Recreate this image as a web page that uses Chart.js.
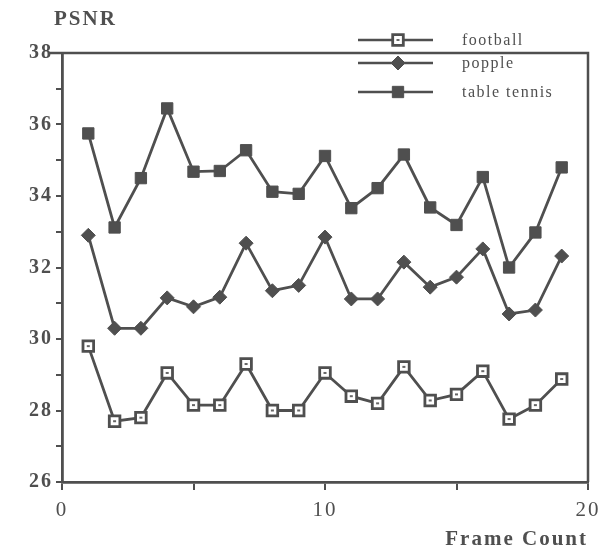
<!DOCTYPE html>
<html>
<head>
<meta charset="utf-8">
<script src="https://cdn.jsdelivr.net/npm/chart.js@4"></script>
<style>
  html, body { margin: 0; padding: 0; background: #fff; }
  #wrap { width: 602px; height: 552px; }
</style>
</head>
<body>
<div id="wrap"><canvas id="c" width="602" height="552"></canvas></div>
<script>
// values
const frames = [1, 2, 3, 4, 5, 6, 7, 8, 9, 10, 11, 12, 13, 14, 15, 16, 17, 18, 19];
const football = [29.8, 27.7, 27.8, 29.05, 28.15, 28.15, 29.3, 28.0, 28.0, 29.05, 28.4, 28.2, 29.22, 28.28, 28.45, 29.1, 27.76, 28.15, 28.88];
const popple = [32.9, 30.3, 30.3, 31.15, 30.9, 31.17, 32.68, 31.35, 31.5, 32.85, 31.12, 31.12, 32.15, 31.45, 31.73, 32.52, 30.7, 30.81, 32.32];
const tableTennis = [35.75, 33.12, 34.5, 36.45, 34.68, 34.7, 35.28, 34.12, 34.06, 35.12, 33.66, 34.22, 35.16, 33.68, 33.19, 34.53, 32.0, 32.98, 34.8];
const xLabels = [0, 10, 20];
const yLabels = [26, 28, 30, 32, 34, 36, 38];

const ink = '#4f4f4f';
const serif = '"Liberation Serif", "DejaVu Serif", serif';

function pts(arr) {
  return frames.map((f, i) => ({ x: f, y: arr[i] }));
}

// custom legend, frame box and football centre dots
const extras = {
  id: 'extras',
  beforeDraw(chart) {
    chart.ctx.letterSpacing = '2px';
  },
  afterDatasetsDraw(chart) {
    const ctx = chart.ctx;
    const a = chart.chartArea;
    ctx.save();
    ctx.strokeStyle = ink;
    ctx.lineWidth = 2.5;
    ctx.beginPath();
    ctx.moveTo(48, a.top);
    ctx.lineTo(a.right, a.top);
    ctx.lineTo(a.right, a.bottom);
    ctx.stroke();

    // dots inside the open squares
    ctx.fillStyle = '#666';
    chart.getDatasetMeta(0).data.forEach(el => {
      ctx.fillRect(el.x - 1.5, el.y - 1, 3, 2);
    });

    // "PSNR" heading
    ctx.fillStyle = ink;
    ctx.font = 'bold 21px ' + serif;
    ctx.textBaseline = 'middle';
    ctx.textAlign = 'left';
    ctx.letterSpacing = '2px';
    ctx.fillText('PSNR', 54, 20);

    // legend
    const rows = [40, 63, 92];
    ctx.font = '16px ' + serif;
    ctx.letterSpacing = '1.5px';
    chart.data.datasets.forEach((ds, i) => {
      const y = rows[i];
      ctx.strokeStyle = ink;
      ctx.lineWidth = 2.5;
      ctx.beginPath();
      ctx.moveTo(358, y);
      ctx.lineTo(433, y);
      ctx.stroke();
      ctx.fillStyle = ds.pointBackgroundColor;
      ctx.strokeStyle = ink;
      ctx.lineWidth = ds.pointBorderWidth;
      Chart.helpers.drawPoint(ctx, {
        pointStyle: ds.pointStyle,
        radius: ds.pointRadius,
        borderWidth: ds.pointBorderWidth
      }, 398, y);
      if (i === 0) {
        ctx.fillStyle = '#666';
        ctx.fillRect(396.5, y - 1, 3, 2);
      }
      ctx.fillStyle = ink;
      ctx.fillText(ds.label, 462, y + 1);
    });
    ctx.restore();
  }
};

new Chart(document.getElementById('c'), {
  type: 'line',
  data: {
    datasets: [
      {
        label: 'football',
        data: pts(football),
        borderColor: ink,
        borderWidth: 2.8,
        pointStyle: 'rect',
        pointRadius: 7.5,
        pointBorderWidth: 2.8,
        pointBackgroundColor: '#fff',
        pointBorderColor: ink
      },
      {
        label: 'popple',
        data: pts(popple),
        borderColor: ink,
        borderWidth: 2.8,
        pointStyle: 'rectRot',
        pointRadius: 7,
        pointBorderWidth: 1,
        pointBackgroundColor: ink,
        pointBorderColor: ink
      },
      {
        label: 'table tennis',
        data: pts(tableTennis),
        borderColor: ink,
        borderWidth: 2.8,
        pointStyle: 'rect',
        pointRadius: 8,
        pointBorderWidth: 1,
        pointBackgroundColor: ink,
        pointBorderColor: ink
      }
    ]
  },
  options: {
    responsive: false,
    animation: false,
    events: [],
    layout: { padding: { top: 53, right: 14, left: 0, bottom: 0 } },
    plugins: {
      legend: { display: false },
      tooltip: { enabled: false }
    },
    scales: {
      x: {
        type: 'linear',
        min: 0,
        max: 20,
        afterFit: s => { s.height = 70; s.paddingRight = 0; s.paddingLeft = 0; },
        border: { color: ink, width: 2.8 },
        grid: { drawOnChartArea: false, tickLength: 8, color: ink, lineWidth: 2 },
        ticks: {
          stepSize: 5,
          color: ink,
          font: { family: serif, size: 21 },
          padding: 8,
          callback: v => (xLabels.includes(v) ? String(v) : '')
        },
        title: {
          display: true,
          text: 'Frame Count',
          align: 'end',
          color: ink,
          font: { family: serif, size: 21, weight: 'bold' },
          padding: { top: 4, bottom: 0 }
        }
      },
      y: {
        min: 26,
        max: 38,
        afterFit: s => { s.width = 62; },
        border: { color: ink, width: 2.8 },
        grid: { drawOnChartArea: false, tickLength: 6, color: ink, lineWidth: 2 },
        ticks: {
          stepSize: 1,
          color: ink,
          font: { family: serif, size: 20, weight: 'bold' },
          padding: 3,
          callback: v => (yLabels.includes(v) ? String(v) : '')
        }
      }
    }
  },
  plugins: [extras]
});
</script>
</body>
</html>
